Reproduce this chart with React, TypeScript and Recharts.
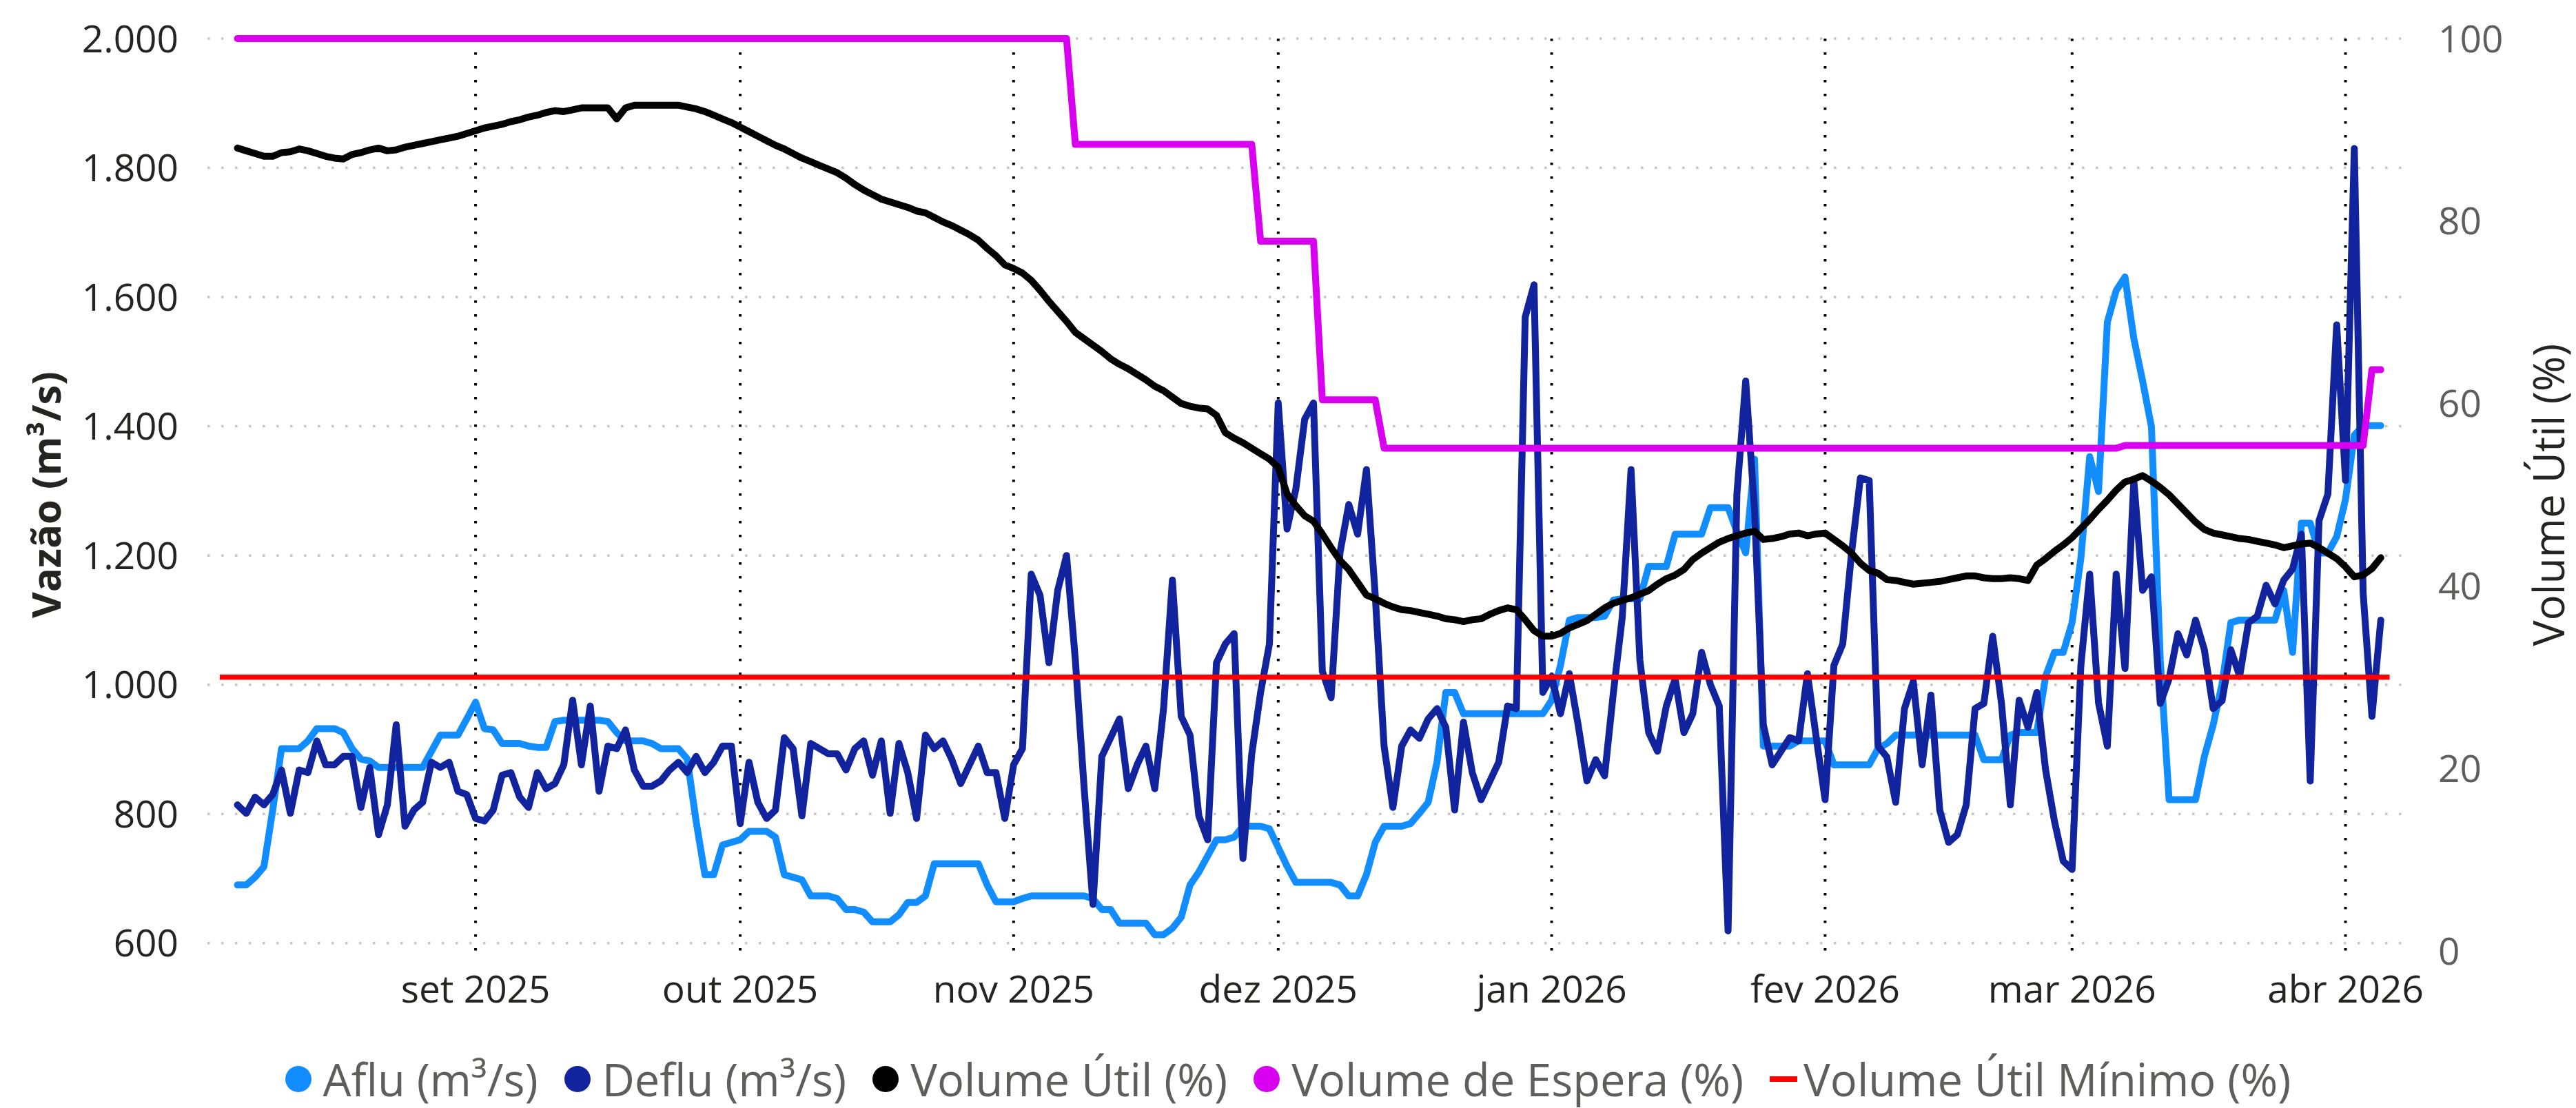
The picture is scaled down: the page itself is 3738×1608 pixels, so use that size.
import React from "react"
import { ComposedChart, Line, XAxis, YAxis, CartesianGrid, Legend } from "recharts"

// daily series, day 0 = 05/08/2025
const startDay = Date.UTC(2025, 7, 5)
const DAY_MS = 86400000

const monthStarts = [
  Date.UTC(2025, 8, 1), Date.UTC(2025, 9, 1), Date.UTC(2025, 10, 1), Date.UTC(2025, 11, 1),
  Date.UTC(2026, 0, 1), Date.UTC(2026, 1, 1), Date.UTC(2026, 2, 1), Date.UTC(2026, 3, 1),
]
const monthLabels = ["set 2025", "out 2025", "nov 2025", "dez 2025", "jan 2026", "fev 2026", "mar 2026", "abr 2026"]

const vazaoTicks = [600, 800, 1000, 1200, 1400, 1600, 1800, 2000]
const volumeTicks = [0, 20, 40, 60, 80, 100]

const aflu = [
  690, 690, 702, 718, 806, 901, 901, 901, 913, 932,
  932, 932, 926, 901, 885, 882, 872, 872, 872, 872,
  872, 872, 897, 922, 922, 922, 947, 973, 932, 930,
  909, 909, 909, 905, 903, 903, 943, 945, 945, 945,
  945, 945, 943, 926, 913, 913, 913, 909, 901, 901,
  901, 885, 789, 706, 706, 752, 756, 760, 773, 773,
  773, 764, 706, 702, 698, 673, 673, 673, 669, 652,
  652, 648, 633, 633, 633, 644, 663, 663, 673, 723,
  723, 723, 723, 723, 723, 690, 664, 664, 664, 669,
  673, 673, 673, 673, 673, 673, 673, 669, 652, 652,
  631, 631, 631, 631, 613, 613, 623, 640, 690, 710,
  735, 760, 760, 764, 781, 781, 781, 777, 748, 719,
  694, 694, 694, 694, 694, 690, 673, 673, 706, 756,
  781, 781, 781, 785, 801, 818, 880, 988, 988, 955,
  955, 955, 955, 955, 955, 955, 955, 955, 955, 976,
  1030, 1100, 1104, 1104, 1104, 1106, 1131, 1133, 1133, 1133,
  1183, 1183, 1183, 1233, 1233, 1233, 1233, 1274, 1274, 1274,
  1237, 1204, 1349, 905, 905, 905, 905, 913, 913, 913,
  913, 876, 876, 876, 876, 876, 901, 909, 922, 922,
  922, 922, 922, 922, 922, 922, 922, 922, 884, 884,
  884, 922, 926, 926, 926, 1013, 1050, 1050, 1096, 1196,
  1353, 1299, 1561, 1610, 1631, 1536, 1470, 1399, 1038, 822,
  822, 822, 822, 889, 938, 1001, 1096, 1100, 1100, 1100,
  1100, 1100, 1146, 1050, 1250, 1250, 1204, 1204, 1229, 1287,
  1386, 1401, 1401, 1401,
]

const deflu = [
  814, 801, 826, 814, 830, 868, 801, 868, 864, 913,
  876, 876, 889, 889, 810, 872, 768, 814, 938, 781,
  806, 818, 880, 872, 880, 835, 830, 793, 789, 806,
  860, 864, 826, 810, 864, 839, 847, 876, 976, 876,
  967, 835, 905, 901, 930, 868, 843, 843, 851, 868,
  880, 864, 889, 864, 880, 905, 905, 785, 880, 818,
  793, 806, 918, 901, 797, 909, 901, 893, 893, 868,
  901, 913, 860, 913, 801, 909, 864, 793, 922, 901,
  913, 884, 847, 876, 905, 864, 864, 793, 876, 901,
  1171, 1138, 1034, 1146, 1200, 1038, 839, 660, 889, 918,
  947, 839, 876, 905, 839, 963, 1162, 951, 922, 797,
  760, 1034, 1063, 1079, 731, 893, 988, 1063, 1436, 1241,
  1303, 1411, 1436, 1021, 980, 1204, 1279, 1233, 1333, 1138,
  905, 810, 905, 930, 917, 947, 963, 934, 806, 942,
  864, 822, 851, 880, 967, 963, 1569, 1619, 988, 1013,
  955, 1017, 938, 851, 884, 859, 988, 1104, 1333, 1038,
  926, 897, 967, 1009, 926, 955, 1050, 1000, 967, 619,
  1295, 1470, 1270, 938, 876, 897, 918, 913, 1017, 918,
  822, 1030, 1063, 1204, 1320, 1316, 905, 888, 818, 963,
  1005, 876, 984, 806, 756, 768, 814, 963, 971, 1075,
  971, 814, 976, 934, 988, 868, 789, 727, 714, 1030,
  1171, 972, 905, 1171, 1025, 1316, 1146, 1167, 971, 1009,
  1079, 1046, 1100, 1054, 963, 975, 1054, 1013, 1096, 1106,
  1154, 1125, 1162, 1179, 1233, 851, 1254, 1295, 1557, 1316,
  1830, 1142, 951, 1100,
]

const volumeUtil = [
  88.0, 87.7, 87.4, 87.1, 87.1, 87.5, 87.6, 87.9, 87.7, 87.4,
  87.1, 86.9, 86.8, 87.3, 87.5, 87.8, 88.0, 87.7, 87.8, 88.1,
  88.3, 88.5, 88.7, 88.9, 89.1, 89.3, 89.6, 89.9, 90.2, 90.4,
  90.6, 90.9, 91.1, 91.4, 91.6, 91.9, 92.1, 92.0, 92.2, 92.4,
  92.4, 92.4, 92.4, 91.2, 92.4, 92.7, 92.7, 92.7, 92.7, 92.7,
  92.7, 92.5, 92.3, 92.0, 91.6, 91.2, 90.8, 90.3, 89.8, 89.3,
  88.8, 88.3, 87.9, 87.4, 86.9, 86.5, 86.1, 85.7, 85.3, 84.7,
  84.0, 83.4, 82.9, 82.4, 82.1, 81.8, 81.5, 81.1, 80.9, 80.4,
  79.9, 79.5, 79.0, 78.5, 77.9, 77.0, 76.2, 75.2, 74.8, 74.3,
  73.5, 72.4, 71.2, 70.1, 69.0, 67.8, 67.1, 66.4, 65.7, 64.9,
  64.3, 63.8, 63.2, 62.6, 61.9, 61.4, 60.7, 60.0, 59.7, 59.5,
  59.4, 58.7, 56.8, 56.2, 55.7, 55.1, 54.5, 53.9, 53.0, 50.1,
  48.8, 47.7, 47.1, 45.7, 44.2, 42.8, 41.8, 40.4, 39.0, 38.6,
  38.1, 37.7, 37.4, 37.3, 37.1, 36.9, 36.7, 36.4, 36.3, 36.1,
  36.3, 36.4, 36.9, 37.3, 37.6, 37.4, 36.3, 35.1, 34.5, 34.5,
  34.8, 35.4, 35.8, 36.2, 36.9, 37.6, 38.1, 38.4, 38.7, 39.1,
  39.5, 40.2, 40.8, 41.2, 41.8, 42.9, 43.6, 44.2, 44.8, 45.2,
  45.5, 45.8, 46.0, 45.1, 45.2, 45.4, 45.7, 45.8, 45.5, 45.7,
  45.8, 45.1, 44.4, 43.6, 42.5, 41.7, 41.4, 40.7, 40.6, 40.4,
  40.2, 40.3, 40.4, 40.5, 40.7, 40.9, 41.1, 41.1, 40.9, 40.8,
  40.8, 40.9, 40.8, 40.6, 42.3, 43.0, 43.8, 44.5, 45.3, 46.3,
  47.3, 48.4, 49.4, 50.5, 51.4, 51.7, 52.1, 51.5, 50.8, 50.0,
  49.0, 48.0, 47.0, 46.2, 45.8, 45.6, 45.4, 45.2, 45.1, 44.9,
  44.7, 44.5, 44.2, 44.4, 44.6, 44.7, 44.2, 43.6, 43.0, 42.1,
  41.0, 41.2, 41.9, 43.1,
]

// volume de espera: [valor %, numero de dias]
const esperaSteps: Array<[number, number]> = [
  [100, 95], [88.4, 21], [77.8, 7], [60.4, 7], [55.1, 84], [55.4, 28], [63.7, 2],
]

// volume util minimo: constante, um pouco alem do periodo
const minimoValue = 30
const minimoFrom = Date.UTC(2025, 7, 3)
const minimoTo = Date.UTC(2026, 3, 6)

const toDay = (ms: number) => (ms - startDay) / DAY_MS

const esperaDaily: number[] = esperaSteps.flatMap(([v, n]) => Array(n).fill(v))

const rows = aflu.map((a, i) => ({
  t: i,
  aflu: a,
  deflu: deflu[i],
  util: volumeUtil[i],
  espera: esperaDaily[i],
}))

const minimoRows = [
  { t: toDay(minimoFrom), minimo: minimoValue },
  { t: toDay(minimoTo), minimo: minimoValue },
]

const monthTicks = monthStarts.map(toDay)

const font = "'Open Sans', 'Noto Sans', sans-serif"

const legendItems = [
  { name: "Aflu (m³/s)", color: "#118DFF", dash: false },
  { name: "Deflu (m³/s)", color: "#12239E", dash: false },
  { name: "Volume Útil (%)", color: "#000000", dash: false },
  { name: "Volume de Espera (%)", color: "#D900F0", dash: false },
  { name: "Volume Útil Mínimo (%)", color: "#FF0000", dash: true },
]

function fmtVazao(v: number) {
  if (v < 1000) return String(v)
  const k = Math.floor(v / 1000)
  return `${k}.${String(v - k * 1000).padStart(3, "0")}`
}

function renderLegend() {
  return (
    <div style={{ display: "flex", justifyContent: "center", alignItems: "center", height: 76, fontFamily: font, fontSize: 65, color: "#605E5C", whiteSpace: "nowrap" }}>
      {legendItems.map((it, i) => (
        <div key={it.name} style={{ display: "flex", alignItems: "center", marginRight: i < legendItems.length - 1 ? 38 : 0 }}>
          {it.dash ? (
            <span style={{ display: "inline-block", width: 40, height: 8, background: it.color, marginRight: 9 }} />
          ) : (
            <span style={{ display: "inline-block", width: 38, height: 38, borderRadius: "50%", background: it.color, marginRight: 17 }} />
          )}
          <span>{it.name}</span>
        </div>
      ))}
    </div>
  )
}

function LeftTitle(props: any) {
  const vb = props.viewBox || { y: 0, height: 0 }
  const cx = 65
  const cy = vb.y + vb.height / 2
  return (
    <text x={cx} y={cy} transform={`rotate(-90 ${cx} ${cy})`} textAnchor="middle" dominantBaseline="central"
      fontSize={58} fontWeight={700} fill="#252423" fontFamily={font}>
      Vazão (m³/s)
    </text>
  )
}

function RightTitle(props: any) {
  const vb = props.viewBox || { y: 0, height: 0 }
  const cx = 3697
  const cy = vb.y + vb.height / 2
  return (
    <text x={cx} y={cy} transform={`rotate(-90 ${cx} ${cy})`} textAnchor="middle" dominantBaseline="central"
      fontSize={62} fill="#252423" fontFamily={font}>
      Volume Útil (%)
    </text>
  )
}

export default function App() {
  return (
    <div style={{ width: 3738, height: 1608, background: "#fff" }}>
      <style>{"body{margin:0}"}</style>
      <ComposedChart width={3738} height={1608} data={rows} margin={{ top: 56, right: 0, bottom: 4, left: 0 }} style={{ fontFamily: font }}>
        <CartesianGrid yAxisId="left" vertical={false} syncWithTicks stroke="#C8C6C4" strokeDasharray="3.5 16.5" strokeWidth={3.5} />
        <CartesianGrid yAxisId="left" horizontal={false} syncWithTicks stroke="#000000" strokeDasharray="3.5 16.5" strokeWidth={4} />
        <XAxis
          dataKey="t"
          type="number"
          domain={[-3.4, 245.6]}
          allowDataOverflow
          ticks={monthTicks}
          tickFormatter={(v: number) => monthLabels[monthTicks.indexOf(v)] ?? ""}
          interval={0}
          height={148}
          tickSize={0}
          tickMargin={36}
          axisLine={false}
          tickLine={false}
          tick={{ fontSize: 55, fill: "#252423" }}
        />
        <YAxis
          yAxisId="left"
          domain={[588, 2000]}
          allowDataOverflow
          ticks={vazaoTicks}
          interval={0}
          width={301}
          tickSize={0}
          tickMargin={42}
          axisLine={false}
          tickLine={false}
          tickFormatter={fmtVazao}
          tick={{ fontSize: 55, fill: "#252423" }}
          label={<LeftTitle />}
        />
        <YAxis
          yAxisId="right"
          orientation="right"
          domain={[0, 100]}
          ticks={volumeTicks}
          interval={0}
          width={250}
          tickSize={0}
          tickMargin={50}
          axisLine={false}
          tickLine={false}
          tick={{ fontSize: 55, fill: "#605E5C", textAnchor: "start" }}
          label={<RightTitle />}
        />
        <Legend verticalAlign="bottom" content={renderLegend} />
        <Line yAxisId="left" dataKey="aflu" name="Aflu (m³/s)" stroke="#118DFF" strokeWidth={10} dot={false} activeDot={false}
          strokeLinecap="round" strokeLinejoin="round" isAnimationActive={false} type="linear" />
        <Line yAxisId="left" dataKey="deflu" name="Deflu (m³/s)" stroke="#12239E" strokeWidth={10} dot={false} activeDot={false}
          strokeLinecap="round" strokeLinejoin="round" isAnimationActive={false} type="linear" />
        <Line yAxisId="right" dataKey="util" name="Volume Útil (%)" stroke="#000000" strokeWidth={10} dot={false} activeDot={false}
          strokeLinecap="round" strokeLinejoin="round" isAnimationActive={false} type="linear" />
        <Line yAxisId="right" dataKey="espera" name="Volume de Espera (%)" stroke="#D900F0" strokeWidth={10} dot={false} activeDot={false}
          strokeLinecap="round" strokeLinejoin="round" isAnimationActive={false} type="linear" />
        <Line yAxisId="right" data={minimoRows} dataKey="minimo" name="Volume Útil Mínimo (%)" stroke="#FF0000" strokeWidth={7.5} dot={false}
          activeDot={false} isAnimationActive={false} type="linear" />
      </ComposedChart>
    </div>
  )
}
